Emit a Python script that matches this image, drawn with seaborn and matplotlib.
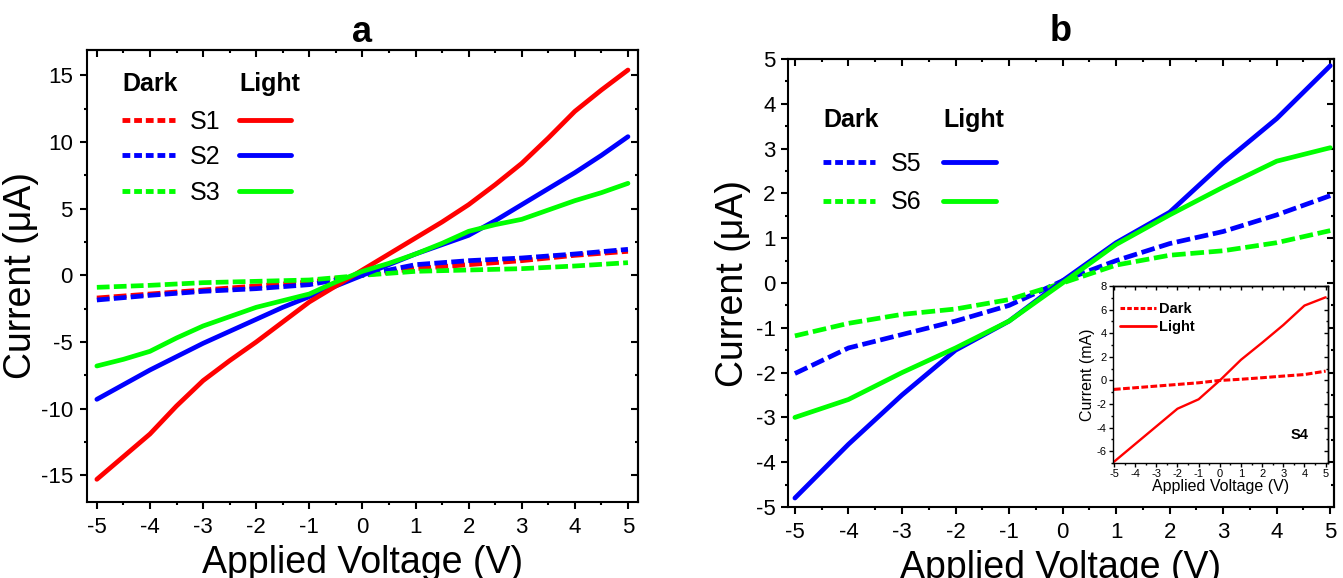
import numpy as np
import pandas as pd
import matplotlib
matplotlib.use('Agg')
import matplotlib.pyplot as plt
import seaborn as sns
from matplotlib.lines import Line2D
from matplotlib.ticker import MultipleLocator

sns.set_style('ticks')
plt.rcParams['font.family'] = ['Liberation Sans', 'DejaVu Sans']
plt.rcParams['axes.unicode_minus'] = False
plt.rcParams['text.color'] = 'black'
plt.rcParams['axes.labelcolor'] = 'black'
plt.rcParams['xtick.color'] = 'black'
plt.rcParams['ytick.color'] = 'black'

# ---------------- data ----------------
# panel a
volt_a_light = [-5, -4.5, -4, -3.5, -3, -2.5, -2, -1.5, -1, -0.5, 0,
                0.5, 1, 1.5, 2, 2.5, 3, 3.5, 4, 4.5, 5]
s1_light = [-15.3, -13.6, -11.9, -9.8, -7.9, -6.4, -5.0, -3.5, -2.0, -0.8, 0.4,
            1.6, 2.8, 4.0, 5.3, 6.8, 8.4, 10.3, 12.3, 13.9, 15.4]
s2_light = [-9.3, -8.2, -7.1, -6.1, -5.1, -4.2, -3.3, -2.4, -1.6, -0.8, 0.0,
            0.8, 1.6, 2.3, 3.0, 4.1, 5.3, 6.5, 7.7, 9.0, 10.4]
s3_light = [-6.8, -6.3, -5.7, -4.7, -3.8, -3.1, -2.4, -1.9, -1.4, -0.5, 0.3,
            0.9, 1.6, 2.4, 3.3, 3.8, 4.2, 4.9, 5.6, 6.2, 6.9]
volt_a_dark = [-5, -4, -3, -2, -1, 0, 1, 2, 3, 4, 5]
s1_dark = [-1.7, -1.4, -1.1, -0.8, -0.5, 0.0, 0.5, 0.8, 1.1, 1.5, 1.8]
s2_dark = [-1.85, -1.5, -1.2, -1.0, -0.7, 0.0, 0.8, 1.1, 1.3, 1.6, 1.95]
s3_dark = [-0.9, -0.75, -0.55, -0.45, -0.35, 0.0, 0.3, 0.4, 0.5, 0.7, 0.95]

# panel b
volt_b = [-5, -4, -3, -2, -1, 0, 1, 2, 3, 4, 5]
s5_light = [-4.8, -3.6, -2.5, -1.5, -0.85, 0.05, 0.9, 1.58, 2.68, 3.67, 4.85]
s6_light = [-3.0, -2.6, -2.0, -1.45, -0.85, 0.0, 0.86, 1.52, 2.14, 2.72, 3.02]
s5_dark = [-2.02, -1.45, -1.15, -0.85, -0.5, 0.05, 0.5, 0.88, 1.15, 1.52, 1.95]
s6_dark = [-1.18, -0.9, -0.7, -0.58, -0.37, 0.0, 0.4, 0.62, 0.72, 0.9, 1.17]

# inset (S4, mA)
volt_s4 = [-5, -4, -3, -2, -1, 0, 1, 2, 3, 4, 5]
s4_light = [-6.9, -5.4, -3.9, -2.4, -1.6, 0.0, 1.75, 3.2, 4.7, 6.35, 7.05]
s4_dark = [-0.76, -0.62, -0.48, -0.34, -0.2, 0.0, 0.1, 0.23, 0.37, 0.5, 0.79]

RED, BLUE, GREEN = '#ff0000', '#0000ff', '#00ff00'

# ---------------- figure ----------------
fig = plt.figure(figsize=(13.43, 5.78), dpi=100)
ax_a = fig.add_axes([0.0646, 0.1315, 0.4105, 0.7820])
ax_b = fig.add_axes([0.5867, 0.1228, 0.4066, 0.7751])
ax_in = fig.add_axes([0.8285, 0.199, 0.1603, 0.306])

LW = 3.4
DASH = (2.7, 0.9)


def draw(ax, x, y, color, dark, lw=LW, dash=DASH):
    df = pd.DataFrame({'V': x, 'I': y})
    kw = dict(linestyle=(0, dash)) if dark else dict(linestyle='-')
    sns.lineplot(data=df, x='V', y='I', ax=ax, color=color, lw=lw,
                 estimator=None, sort=False, solid_capstyle='round',
                 dash_capstyle='butt', **kw)


def style(ax, xlim, ylim, xmaj, xmin, ymaj, ymin, lw, majlen, minlen, lsize, xpad, ypad):
    ax.set_xlim(*xlim)
    ax.set_ylim(*ylim)
    for axis, maj, mn in ((ax.xaxis, xmaj, xmin), (ax.yaxis, ymaj, ymin)):
        axis.set_major_locator(MultipleLocator(maj))
        axis.set_minor_locator(MultipleLocator(mn))
    ax.tick_params(which='both', direction='out', top=False, right=False,
                   bottom=True, left=True,
                   width=lw, color='black', labelcolor='black')
    ax.tick_params(which='major', length=majlen, labelsize=lsize)
    ax.tick_params(axis='x', which='major', pad=xpad)
    ax.tick_params(axis='y', which='major', pad=ypad)
    ax.tick_params(which='minor', length=minlen)
    for s in ax.spines.values():
        s.set_visible(True)
        s.set_linewidth(lw)
        s.set_color('black')
    sx = ax.secondary_xaxis('top')
    sx.xaxis.set_major_locator(MultipleLocator(xmaj))
    sx.xaxis.set_minor_locator(MultipleLocator(xmin))
    sx.tick_params(which='both', direction='in', top=True, bottom=False,
                   labeltop=False, labelbottom=False, width=lw, color='black')
    sx.tick_params(which='major', length=majlen)
    sx.tick_params(which='minor', length=minlen)
    sx.spines['top'].set_linewidth(lw)
    sx.spines['top'].set_color('black')
    sy = ax.secondary_yaxis('right')
    sy.yaxis.set_major_locator(MultipleLocator(ymaj))
    sy.yaxis.set_minor_locator(MultipleLocator(ymin))
    sy.tick_params(which='both', direction='in', right=True, left=False,
                   labelright=False, labelleft=False, width=lw, color='black')
    sy.tick_params(which='major', length=majlen)
    sy.tick_params(which='minor', length=minlen)
    sy.spines['right'].set_linewidth(lw)
    sy.spines['right'].set_color('black')


# panel a
for y, c in ((s1_dark, RED), (s2_dark, BLUE), (s3_dark, GREEN)):
    draw(ax_a, volt_a_dark, y, c, True)
for y, c in ((s2_light, BLUE), (s1_light, RED), (s3_light, GREEN)):
    draw(ax_a, volt_a_light, y, c, False)

style(ax_a, (-5.19, 5.19), (-17.0, 16.9), 1, 0.5, 5, 2.5, 1.5, 5, 2.5, 16, 6, 5)
ax_a.set_xlabel('Applied Voltage (V)', fontsize=27, labelpad=5)
ax_a.set_ylabel('Current (\u03bcA)', fontsize=27, labelpad=1)
ax_a.set_title('a', fontsize=26, fontweight='bold', pad=6)

# panel b
for y, c in ((s5_dark, BLUE), (s6_dark, GREEN)):
    draw(ax_b, volt_b, y, c, True, dash=(2.9, 1.0))
for y, c in ((s5_light, BLUE), (s6_light, GREEN)):
    draw(ax_b, volt_b, y, c, False)

style(ax_b, (-5.13, 5.07), (-5, 5), 1, 0.5, 1, 0.5, 1.5, 5, 2.5, 16, 6, 4)
ax_b.set_xlabel('Applied Voltage (V)', fontsize=27, labelpad=5)
ax_b.set_ylabel('Current (\u03bcA)', fontsize=27, labelpad=3)
ax_b.set_title('b', fontsize=26, fontweight='bold', pad=13)

# inset
draw(ax_in, volt_s4, s4_dark, RED, True, lw=2.2, dash=(2.2, 0.8))
draw(ax_in, volt_s4, s4_light, RED, False, lw=1.7)
style(ax_in, (-5.06, 5.11), (-7, 8), 1, 0.5, 2, 1, 1.0, 3, 1.5, 8, 1.5, 1.5)
ax_in.set_xlabel('Applied Voltage (V)', fontsize=11.5, labelpad=0)
ax_in.set_ylabel('Current (mA)', fontsize=11.5, labelpad=1)
ax_in.text(0.87, 0.16, 'S4', transform=ax_in.transAxes, fontsize=10.5,
           fontweight='bold', ha='center', va='center')


# ---------------- legends ----------------
def two_legends(ax, colors, labels, x_dark, x_light, y, fs, spacing, title_gap, hdash):
    dark_h = [Line2D([], [], color=c, lw=3.5, linestyle=(0, hdash)) for c in colors]
    light_h = [Line2D([], [], color=c, lw=3.5) for c in colors]
    common = dict(frameon=False, loc='upper left', borderpad=0, borderaxespad=0,
                  fontsize=fs, handlelength=2.1, handletextpad=0.6,
                  labelspacing=spacing, alignment='left',
                  title_fontproperties={'weight': 'bold', 'size': fs})
    lg1 = ax.legend(dark_h, labels, title='Dark', bbox_to_anchor=(x_dark, y), **common)
    ax.add_artist(lg1)
    lg2 = ax.legend(light_h, [''] * len(colors), title='Light',
                    bbox_to_anchor=(x_light, y), **common)
    for lg in (lg1, lg2):
        lg._legend_box.sep = title_gap
    return lg1, lg2


two_legends(ax_a, [RED, BLUE, GREEN], ['S1', 'S2', 'S3'], 0.064, 0.276, 0.951,
            18, 0.46, 0.46 * 18 + 1.5, (1.6, 0.8))
two_legends(ax_b, [BLUE, GREEN], ['S5', 'S6'], 0.064, 0.284, 0.891,
            18, 0.57, 0.57 * 18 + 4.3, (1.6, 0.8))

ax_in.legend([Line2D([], [], color=RED, lw=2.2, linestyle=(0, (1.5, 0.7))),
              Line2D([], [], color=RED, lw=2.0)],
             ['Dark', 'Light'], frameon=False, loc='upper left', borderpad=0,
             borderaxespad=0, bbox_to_anchor=(0.034, 0.91),
             handlelength=2.5, handletextpad=0.15, labelspacing=0.3,
             prop={'weight': 'bold', 'size': 10.5})

fig.savefig('out.png', dpi=100)
